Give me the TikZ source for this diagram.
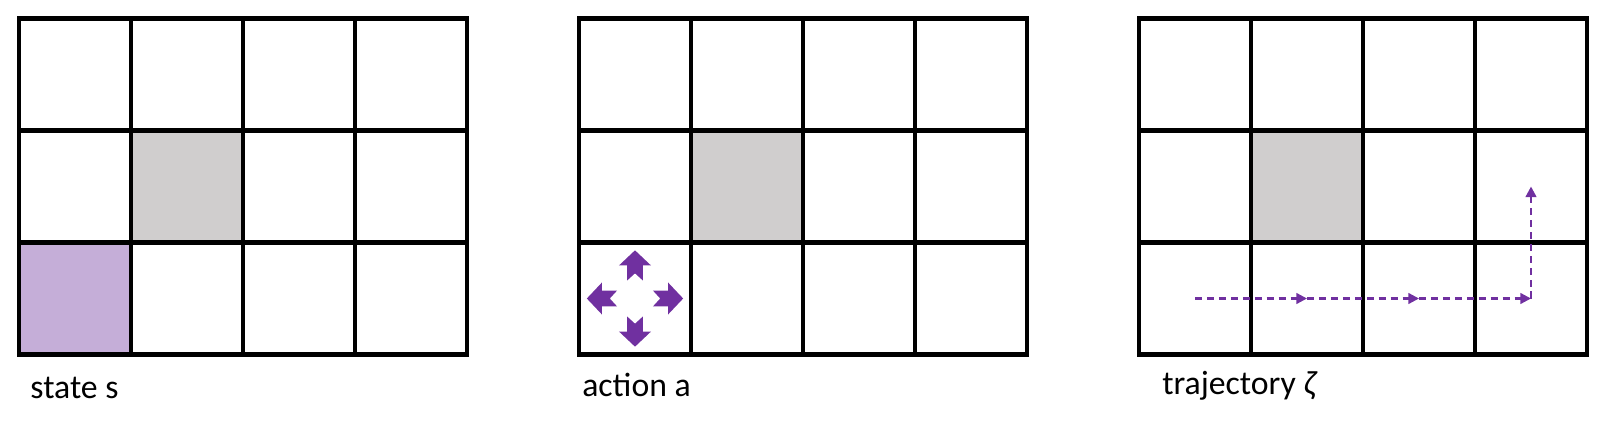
\documentclass[tikz,border=0pt]{standalone}
\usepackage{fontspec}
\setmainfont{Carlito}
\usetikzlibrary{arrows.meta}
\definecolor{statepurple}{RGB}{197,174,216}
\definecolor{wallgray}{RGB}{208,206,206}
\definecolor{actpurple}{RGB}{112,48,160}

\begin{document}
\begin{tikzpicture}[x=2.8cm, y=2.8cm, >={Triangle[length=7.5pt, width=7.5pt]},
    gridline/.style={line width=3pt, line cap=rect, step=2.8cm},
    trajline/.style={actpurple, line width=1.6pt, dash pattern=on 5pt off 3.5pt, ->},
    paneltext/.style={anchor=base west, inner sep=0pt, font=\fontsize{24}{28}\selectfont}]
    \useasboundingbox (-0.1696, -0.6027) rectangle (14.2232, 3.1652);
    % cells
    \foreach \px in {0, 5, 10}
      \fill[wallgray] (\px+1, 1) rectangle (\px+2, 2);
    \fill[statepurple] (0, 0) rectangle (1, 1);
    \foreach \px in {0, 5, 10}
      \draw[gridline] (\px, 0) grid (\px+4, 3);
    % actions
    \foreach \ang in {0, 90, 180, 270}
      \fill[actpurple, shift={(5.5, 0.5)}, rotate=\ang]
        (0.43, 0) -- (0.295, 0.143) -- (0.295, 0.071) -- (0.16, 0.071) -- (0.225, 0)
        -- (0.16, -0.071) -- (0.295, -0.071) -- (0.295, -0.143) -- cycle;
    % trajectory
    \coordinate (t0) at (10.5, 0.5);
    \coordinate (t1) at (11.5, 0.5);
    \coordinate (t2) at (12.5, 0.5);
    \coordinate (t3) at (13.5, 0.5);
    \coordinate (t4) at (13.5, 1.5);
    \draw[trajline] (t0) -- (t1);
    \draw[trajline] (t1) -- (t2);
    \draw[trajline] (t2) -- (t3);
    \draw[trajline] (t3) -- (t4);
    \node[paneltext] (lstate) at (0.1, -0.39) {state s};
    \node[paneltext] (laction) at (5.027, -0.377) {action a};
    \node[paneltext] (ltraj) at (10.205, -0.36) {trajectory \textit{ζ}};
\end{tikzpicture}
\end{document}
